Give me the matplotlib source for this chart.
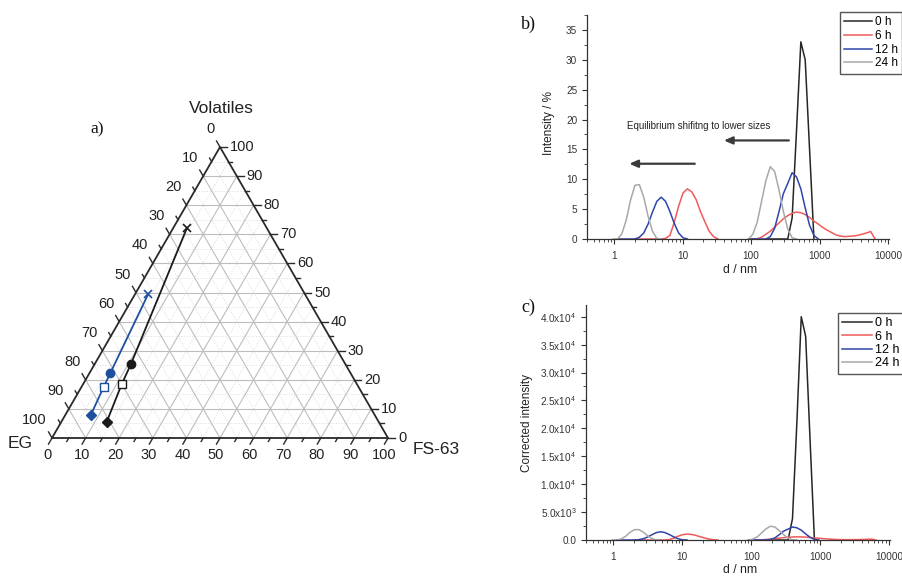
import numpy as np
import matplotlib
matplotlib.use("Agg")
import matplotlib.pyplot as plt
from matplotlib.ticker import FixedLocator, LogLocator, MultipleLocator, AutoMinorLocator, FuncFormatter, NullFormatter

plt.rcParams['font.family'] = ['Liberation Sans', 'DejaVu Sans']
plt.rcParams['mathtext.default'] = 'regular'

nan = np.nan

# ---- a) ternary composition data (%): EG / FS-63 / Volatiles
black_eg = [80.9, 70.0, 63.9, 23.9]
black_fs = [13.5, 11.5, 10.8, 4.1]
black_vol = [5.6, 18.5, 25.3, 72.0]
blue_eg = [84.5, 75.8, 71.4, 46.6]
blue_fs = [7.6, 6.6, 6.2, 3.9]
blue_vol = [7.9, 17.6, 22.4, 49.5]
point_markers = ['D', 's', 'o', 'x']
tern_ticks = [0, 10, 20, 30, 40, 50, 60, 70, 80, 90, 100]

# ---- b) intensity distributions (d in nm, intensity in %)
labels = ['0 h', '6 h', '12 h', '24 h']
d_0h = [164.2, 342.0, 396.1, 458.7, 531.2, 615.1, 712.4, 825.0]
i_0h = [0, 0, 3.5, 18, 33, 30, 15, 0]
d_6h = [2.01, 4.187, 4.849, 5.615, 6.503, 7.531, 8.721, 10.1, 11.7, 13.54, 15.69, 18.17, 21.04, 24.36, 28.21, 32.67, nan,
        91.28, 105.7, 122.4, 141.8, 164.2, 190.1, 220.2, 255.0, 295.3, 342.0, 396.1, 458.7, 531.2, 615.1, 712.4,
        825.0, 955.4, 1106, 1281, 1484, 1718, 1990, 2305, 2669, 3091, 3580, 4145, 4801, 5560, 6439]
i_6h = [0, 0, 0, 0.1, 0.6, 2.8, 5.5, 7.7, 8.4, 7.9, 6.6, 4.6, 2.9, 1.3, 0.4, 0, nan,
        0, 0, 0.05, 0.3, 0.8, 1.3, 2.0, 2.7, 3.4, 3.9, 4.3, 4.5, 4.4, 4.1, 3.6,
        3.0, 2.5, 1.95, 1.5, 1.1, 0.7, 0.5, 0.4, 0.45, 0.5, 0.6, 0.8, 1.0, 1.25, 0]
d_12h = [1.117, 2.01, 2.328, 2.696, 3.122, 3.615, 4.187, 4.849, 5.615, 6.503, 7.531, 8.721, 10.1, 11.7, nan,
         91.28, 164.2, 190.1, 220.2, 255.0, 295.3, 342.0, 396.1, 458.7, 531.2, 615.1, 712.4, 825.0, 955.4]
i_12h = [0, 0, 0.3, 1.0, 2.5, 4.5, 6.3, 7.0, 6.3, 4.6, 2.6, 1.0, 0.2, 0, nan,
         0, 0, 0.4, 1.8, 4.6, 7.6, 9.3, 11.1, 10.4, 8.4, 5.2, 2.3, 0.6, 0]
d_24h = [0.965, 1.117, 1.294, 1.499, 1.736, 2.01, 2.328, 2.696, 3.122, 3.615, 4.187, 4.849, nan,
         91.28, 105.7, 122.4, 141.8, 164.2, 190.1, 220.2, 255.0, 295.3, 342.0, 396.1, 458.7]
i_24h = [0, 0, 0.9, 3.2, 6.6, 9.0, 9.1, 7.0, 3.8, 1.3, 0.1, 0, nan,
         0, 0.8, 2.8, 6.3, 9.8, 12.1, 11.3, 8.2, 4.6, 1.7, 0.2, 0]

# ---- c) corrected intensity (same d grids)
c_0h = [0, 0, 3800, 21000, 40000, 36500, 18000, 0]
c_6h = [0, 0, 0, 12, 75, 350, 690, 960, 1050, 990, 825, 575, 365, 165, 50, 0, nan,
        0, 0, 6, 38, 100, 165, 250, 340, 425, 490, 540, 565, 550, 515, 450,
        375, 315, 245, 190, 140, 90, 65, 50, 55, 65, 75, 100, 125, 155, 0]
c_12h = [0, 0, 65, 210, 525, 945, 1325, 1470, 1325, 965, 545, 210, 40, 0, nan,
         0, 0, 85, 380, 965, 1595, 1955, 2330, 2185, 1765, 1090, 485, 125, 0]
c_24h = [0, 0, 185, 655, 1355, 1845, 1865, 1435, 780, 265, 20, 0, nan,
         0, 165, 575, 1290, 2010, 2480, 2315, 1680, 945, 350, 40, 0]

series_colors = ['#262626', '#f05a5a', '#2f45aa', '#a8a8a8']

W, H = 903, 576
fig = plt.figure(figsize=(W / 100, H / 100), dpi=100)

# ================= a) ternary =================
SQ = np.sqrt(3) / 2


def tern(eg, fs, vol):
    eg, fs, vol = (np.asarray(v, dtype=float) for v in (eg, fs, vol))
    tot = eg + fs + vol
    fs, vol = fs / tot, vol / tot
    return fs + vol / 2, vol * SQ


axt = fig.add_axes([0, 100 / H, 460 / W, 386 / H])
axt.set_xlim(-52 / 336, 408 / 336)
axt.set_ylim(-38 / 336, 348 / 336)
axt.axis('off')

grid_c = '#bdbdbd'
for k in range(5, 100, 5):
    major = k % 10 == 0
    kw = dict(color=grid_c, lw=0.8, zorder=1) if major else dict(color='#dadada', lw=0.5, ls=(0, (2, 2)), zorder=1)
    # constant volatiles
    x, y = tern([100 - k, 0], [0, 100 - k], [k, k])
    axt.plot(x, y, **kw)
    # constant FS-63
    x, y = tern([100 - k, 0], [k, k], [0, 100 - k])
    axt.plot(x, y, **kw)
    # constant EG
    x, y = tern([k, k], [100 - k, 0], [0, 100 - k])
    axt.plot(x, y, **kw)

fx, fy = tern([100, 0, 0, 100], [0, 100, 0, 0], [0, 0, 100, 0])
axt.plot(fx, fy, color='#2a2a2a', lw=1.3, zorder=3, solid_joinstyle='miter')

tl_major, tl_minor = 7 / 336, 4 / 336
for k in range(0, 101, 5):
    L = tl_major if k % 10 == 0 else tl_minor
    # bottom axis (FS-63)
    x, y = tern(100 - k, k, 0)
    axt.plot([x, x - 0.5 * L], [y, y - SQ * L], color='#2a2a2a', lw=1.0, zorder=3)
    # right axis (volatiles)
    x, y = tern(0, 100 - k, k)
    axt.plot([x, x + L], [y, y], color='#2a2a2a', lw=1.0, zorder=3)
    # left axis (EG)
    x, y = tern(k, 0, 100 - k)
    axt.plot([x, x - 0.5 * L], [y, y + SQ * L], color='#2a2a2a', lw=1.0, zorder=3)

tfs = 10.5
for k in tern_ticks:
    x, y = tern(100 - k, k, 0)
    axt.annotate(str(k), (x, y), xytext=(-4, -17), textcoords='offset pixels',
                 ha='center', va='center', fontsize=tfs, color='#222')
    x, y = tern(0, 100 - k, k)
    axt.annotate(str(k), (x, y), xytext=(10, 0), textcoords='offset pixels',
                 ha='left', va='center', fontsize=tfs, color='#222')
    x, y = tern(k, 0, 100 - k)
    axt.annotate(str(k), (x, y), xytext=(-5, 18), textcoords='offset pixels',
                 ha='right', va='center', fontsize=tfs, color='#222')

x, y = tern(0, 0, 100)
axt.annotate('Volatiles', (x, y), xytext=(1, 39), textcoords='offset pixels',
             ha='center', va='center', fontsize=12.5, color='#222')
x, y = tern(100, 0, 0)
axt.annotate('EG', (x, y), xytext=(-32, -5), textcoords='offset pixels',
             ha='center', va='center', fontsize=12.5, color='#222')
x, y = tern(0, 100, 0)
axt.annotate('FS-63', (x, y), xytext=(25, -12), textcoords='offset pixels',
             ha='left', va='center', fontsize=12.5, color='#222')

for eg, fs, vol, col in [(black_eg, black_fs, black_vol, '#1a1a1a'),
                         (blue_eg, blue_fs, blue_vol, '#1f50a0')]:
    x, y = tern(eg, fs, vol)
    axt.plot(x, y, color=col, lw=1.3, zorder=4)
    for xi, yi, m in zip(x, y, point_markers):
        if m == 's':
            axt.plot(xi, yi, marker=m, ms=5.5, mfc='white', mec=col, mew=1.0, zorder=5)
        elif m == 'x':
            axt.plot(xi, yi, marker=m, ms=6, mec=col, mew=1.2, zorder=5)
        else:
            axt.plot(xi, yi, marker=m, ms=6 if m == 'o' else 5.5, color=col, zorder=5)

fig.text(97 / W, 1 - 129 / H, 'a)', family='Liberation Serif', fontsize=12.5,
         ha='center', va='center', color='#111')


# ================= b) and c) =================
def style_axes(ax, ymax):
    ax.set_xscale('log')
    ax.set_xlim(0.4, 10300)
    ax.set_ylim(0, ymax)
    for s in ('top', 'right'):
        ax.spines[s].set_visible(False)
    for s in ('left', 'bottom'):
        ax.spines[s].set_color('#333')
        ax.spines[s].set_linewidth(0.9)
    ax.xaxis.set_major_locator(FixedLocator([1, 10, 100, 1000, 10000]))
    ax.xaxis.set_major_formatter(FuncFormatter(lambda v, p: '%d' % v))
    ax.xaxis.set_minor_locator(LogLocator(base=10, subs=np.arange(2, 10), numticks=20))
    ax.xaxis.set_minor_formatter(NullFormatter())
    ax.tick_params(which='major', direction='out', length=3.5, width=0.8, labelsize=7.2, colors='#333')
    ax.tick_params(which='minor', direction='out', length=2, width=0.6, colors='#333')
    ax.tick_params(axis='x', pad=5)


axb = fig.add_axes([587 / W, 1 - 239 / H, 302 / W, 224 / H])
style_axes(axb, 37.5)
axb.yaxis.set_major_locator(MultipleLocator(5))
axb.yaxis.set_minor_locator(AutoMinorLocator(2))
for d, v, lab, col in zip([d_0h, d_6h, d_12h, d_24h], [i_0h, i_6h, i_12h, i_24h], labels, series_colors):
    axb.plot(d, v, color=col, lw=1.1, label=lab, clip_on=False)
axb.set_ylabel('Intensity / %', fontsize=8.5, color='#222')
axb.yaxis.set_label_coords(-0.105, 0.52)
axb.set_xlabel('d / nm', fontsize=8.8, color='#222')
axb.xaxis.set_label_coords(0.507, -0.112)
axb.text(1.53, 19.0, 'Equilibrium shifitng to lower sizes', fontsize=7, color='#222', va='center', ha='left')
arr = dict(arrowstyle='-|>,head_length=0.5,head_width=0.22', color='#3a3a3a', lw=1.6, shrinkA=0, shrinkB=0)
axb.annotate('', xy=(40, 16.5), xytext=(355, 16.5), arrowprops=arr)
axb.annotate('', xy=(1.66, 12.6), xytext=(15, 12.6), arrowprops=arr)
axb.legend(loc='upper left', bbox_to_anchor=(840 / W, 1 - 12 / H), bbox_transform=fig.transFigure,
           fontsize=8.5, frameon=True, fancybox=False, edgecolor='#555', framealpha=1,
           handlelength=2.4, handletextpad=0.2, labelspacing=0.15, borderpad=0.35, borderaxespad=0)
fig.text(528 / W, 1 - 24 / H, 'b)', family='Liberation Serif', fontsize=13, ha='center', va='center', color='#111')

axc = fig.add_axes([586 / W, 1 - 540 / H, 304 / W, 235 / H])
style_axes(axc, 42100)
axc.yaxis.set_major_locator(MultipleLocator(5000))
axc.yaxis.set_minor_locator(AutoMinorLocator(2))


def sci_fmt(v, pos):
    if v <= 0:
        return '0.0'
    e = int(np.floor(np.log10(v)))
    return '%.1fx10$^{%d}$' % (v / 10 ** e, e)


axc.yaxis.set_major_formatter(FuncFormatter(sci_fmt))
for d, v, lab, col in zip([d_0h, d_6h, d_12h, d_24h], [c_0h, c_6h, c_12h, c_24h], labels, series_colors):
    axc.plot(d, v, color=col, lw=1.1, label=lab, clip_on=False)
axc.set_ylabel('Corrected intensity', fontsize=8.5, color='#222')
axc.yaxis.set_label_coords(-0.175, 0.497)
axc.set_xlabel('d / nm', fontsize=8.8, color='#222')
axc.xaxis.set_label_coords(0.507, -0.102)
axc.legend(loc='upper left', bbox_to_anchor=(838 / W, 1 - 313 / H), bbox_transform=fig.transFigure,
           fontsize=9, frameon=True, fancybox=False, edgecolor='#555', framealpha=1,
           handlelength=2.4, handletextpad=0.2, labelspacing=0.1, borderpad=0.35, borderaxespad=0)
fig.text(528 / W, 1 - 307 / H, 'c)', family='Liberation Serif', fontsize=13, ha='center', va='center', color='#111')

fig.savefig('out.png', dpi=100)
